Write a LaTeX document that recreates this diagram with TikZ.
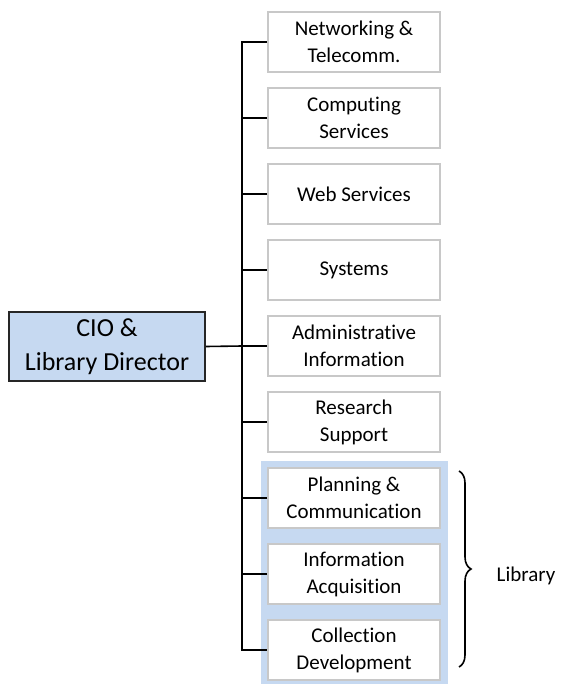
\documentclass[tikz,border=0pt]{standalone}
\usepackage{fontspec}
\setmainfont{Carlito}[Ligatures=NoCommon]
\usepackage{xcolor}
\usetikzlibrary{decorations.pathreplacing}

\definecolor{libblue}{RGB}{198,217,241}
\definecolor{unitgray}{RGB}{200,200,200}

\begin{document}
\begin{tikzpicture}[x=0.5pt, y=-0.5pt,
        unit/.style={draw=unitgray, line width=1pt, fill=white, minimum width=86pt, minimum height=30pt, inner sep=0pt, align=center, font=\fontsize{10.5}{13.5}\selectfont},
        head/.style={draw=black!85, line width=0.9pt, fill=libblue, minimum width=98pt, minimum height=34.5pt, inner sep=0pt, align=center, font=\fontsize{13}{17}\selectfont},
        link/.style={line width=0.8pt, black},
        curly/.style={decorate, decoration={brace, amplitude=6pt}, line width=0.8pt}
    ]
        \useasboundingbox (0,0) rectangle (570,684);
        % library group behind the last three units
        \fill[libblue] (261,461) rectangle (448,684);

        \node[head] (cio) at (107,346.5) {CIO \&\\Library Director};

        \node[unit] (netw) at (354,42) {Networking \&\\Telecomm.};
        \node[unit] (comp) at (354,118) {Computing\\Services};
        \node[unit] (web) at (354,194) {Web Services};
        \node[unit] (sys) at (354,270) {Systems};
        \node[unit] (admin) at (354,346) {Administrative\\Information};
        \node[unit] (research) at (354,422) {Research\\Support};
        \node[unit] (plan) at (354,498) {Planning \&\\Communication};
        \node[unit] (acq) at (354,574) {Information\\Acquisition};
        \node[unit] (coll) at (354,650) {Collection\\Development};

        \coordinate (bus) at (242,346);
        \node[font=\fontsize{10.5}{13.5}\selectfont] (library) at (526,576) {Library};

        \draw[link] (cio.east) -- (bus);
        \draw[link] (netw.west) -| (bus) |- (coll.west);
        \draw[link] (comp.west) -- (comp.west -| bus);
        \draw[link] (web.west) -- (web.west -| bus);
        \draw[link] (sys.west) -- (sys.west -| bus);
        \draw[link] (admin.west) -- (admin.west -| bus);
        \draw[link] (research.west) -- (research.west -| bus);
        \draw[link] (plan.west) -- (plan.west -| bus);
        \draw[link] (acq.west) -- (acq.west -| bus);
        \draw[curly] ([xshift=9pt, yshift=-2pt]plan.north east) -- ([xshift=9pt, yshift=7pt]coll.south east);
    \end{tikzpicture}
\end{document}
